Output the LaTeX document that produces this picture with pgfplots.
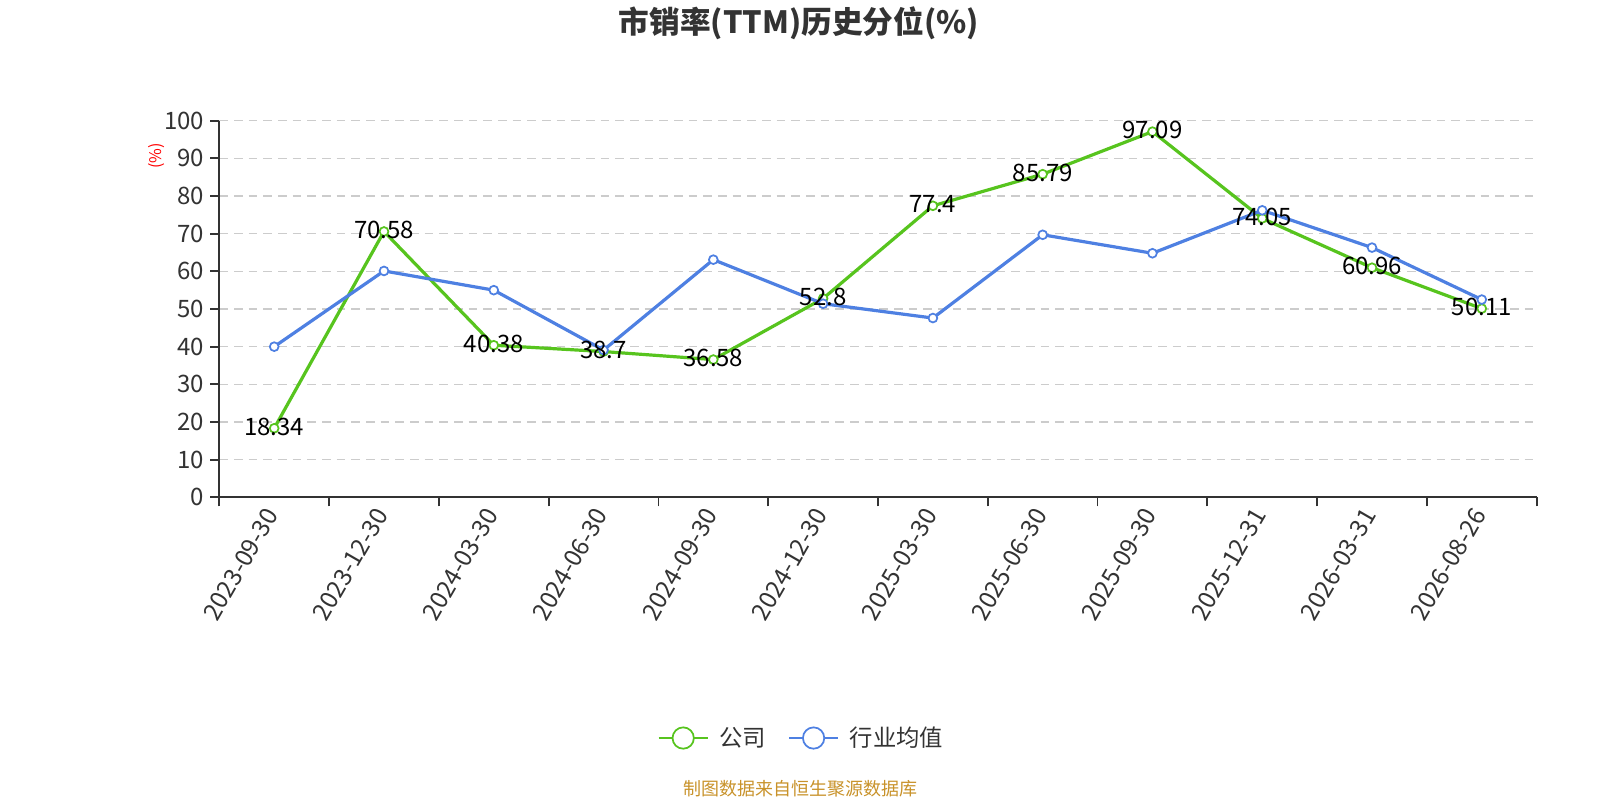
\documentclass[border=0pt]{standalone}
\usepackage{fontspec}
\setmainfont{Noto Sans CJK SC}
\usepackage{pgfplots}
\pgfplotsset{compat=1.18}
\definecolor{cgreen}{RGB}{87,196,30}
\definecolor{cblue}{RGB}{78,128,226}
\definecolor{caxis}{RGB}{51,51,51}
\definecolor{cgrid}{RGB}{204,204,204}
\definecolor{cfoot}{RGB}{200,146,42}
\begin{document}
\begin{tikzpicture}
\path[use as bounding box] (0pt,0pt) rectangle (1200pt,600pt);
\begin{axis}[
  at={(164.5pt,227pt)}, anchor=south west,
  scale only axis, width=988pt, height=282.5pt,
  xmin=-0.5, xmax=11.5, ymin=0, ymax=100,
  clip=false,
  axis lines=left,
  axis line style={-, draw=caxis, line width=1.4pt},
  xtick={0,...,11},
  xticklabels={2023-09-30,2023-12-30,2024-03-30,2024-06-30,2024-09-30,2024-12-30,2025-03-30,2025-06-30,2025-09-30,2025-12-31,2026-03-31,2026-08-26},
  minor xtick={-0.5,0.5,...,11.5},
  ytick={0,10,...,100},
  tick align=outside,
  major tick length=6.75pt, minor tick length=6.75pt,
  tick style={draw=caxis, line width=1.4pt},
  major x tick style={draw=none},
  ymajorgrids,
  grid style={cgrid, dash pattern=on 6.5pt off 4.5pt, line width=1.1pt},
  /pgf/number format/assume math mode=true,
  yticklabel style={font=\fontsize{18pt}{18pt}\selectfont, text=caxis, xshift=-1pt},
  xticklabel style={font=\fontsize{18.2pt}{18.2pt}\selectfont, text=caxis, rotate=60, anchor=east},
  legend style={at={(0.4412,-0.639)}, anchor=center, draw=none, fill=none,
    legend columns=2, font=\fontsize{17.5pt}{17.5pt}\selectfont, text=caxis,
    nodes={inner sep=0pt},
    /tikz/every odd column/.append style={column sep=8.25pt},
    /tikz/every even column/.append style={column sep=16.5pt}},
]
\addplot[cgreen, line width=2.4pt, mark=*, mark size=3.3pt,
  mark options={fill=white, draw=cgreen, line width=1.3pt},
  legend image code/.code={\draw[cgreen, line width=1.3pt] (0pt,0pt) -- (36.75pt,0pt);
    \draw[cgreen, line width=1.3pt, fill=white] (18.4pt,0pt) circle (8pt);}]
  coordinates {(0,18.34) (1,70.58) (2,40.38) (3,38.7) (4,36.58) (5,52.8) (6,77.4) (7,85.79) (8,97.09) (9,74.05) (10,60.96) (11,50.11)};
\addlegendentry{公司}
\addplot[cblue, line width=2.4pt, mark=*, mark size=3.3pt,
  mark options={fill=white, draw=cblue, line width=1.3pt},
  legend image code/.code={\draw[cblue, line width=1.3pt] (0pt,0pt) -- (36.75pt,0pt);
    \draw[cblue, line width=1.3pt, fill=white] (18.4pt,0pt) circle (8pt);}]
  coordinates {(0,40.0) (1,60.1) (2,55.0) (3,39.1) (4,63.1) (5,51.4) (6,47.6) (7,69.7) (8,64.8) (9,76.2) (10,66.3) (11,52.5)};
\addlegendentry{行业均值}
\addplot[draw=none, mark=none, forget plot, nodes near coords, point meta=explicit symbolic,
  nodes near coords style={anchor=center, font=\fontsize{18pt}{18pt}\selectfont, text=black, yshift=1pt}]
  coordinates {(0,18.34)[18.34] (1,70.58)[70.58] (2,40.38)[40.38] (3,38.7)[38.7] (4,36.58)[36.58] (5,52.8)[52.8] (6,77.4)[77.4] (7,85.79)[85.79] (8,97.09)[97.09] (9,74.05)[74.05] (10,60.96)[60.96] (11,50.11)[50.11]};
\end{axis}
\node[font=\fontsize{23pt}{23pt}\selectfont\bfseries, text=caxis] at (599.25pt,582.75pt) {市销率(TTM)历史分位(\%)};
\node[font=\fontsize{12pt}{12pt}\selectfont, text=red, rotate=90] at (117.75pt,483pt) {(\%)};
\node[font=\fontsize{13.5pt}{13.5pt}\selectfont, text=cfoot] at (600pt,8.25pt) {制图数据来自恒生聚源数据库};
\end{tikzpicture}
\end{document}
